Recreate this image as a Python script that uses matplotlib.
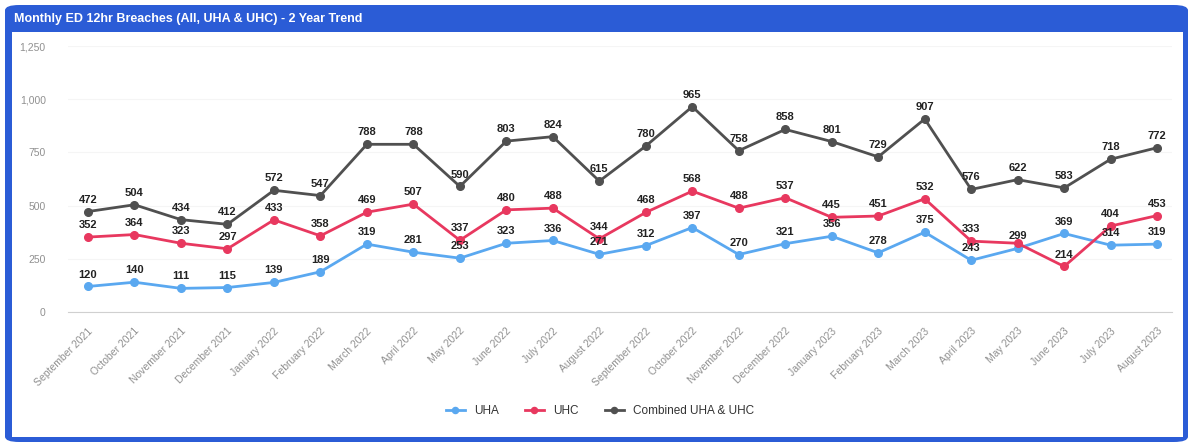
import matplotlib.pyplot as plt
from matplotlib.patches import FancyBboxPatch, Rectangle

# --- Data ---
months = ['September 2021', 'October 2021', 'November 2021', 'December 2021',
          'January 2022', 'February 2022', 'March 2022', 'April 2022', 'May 2022',
          'June 2022', 'July 2022', 'August 2022', 'September 2022', 'October 2022',
          'November 2022', 'December 2022', 'January 2023', 'February 2023',
          'March 2023', 'April 2023', 'May 2023', 'June 2023', 'July 2023', 'August 2023']
uha = [120, 140, 111, 115, 139, 189, 319, 281, 253, 323, 336, 271,
       312, 397, 270, 321, 356, 278, 375, 243, 299, 369, 314, 319]
uhc = [352, 364, 323, 297, 433, 358, 469, 507, 337, 480, 488, 344,
       468, 568, 488, 537, 445, 451, 532, 333, 323, 214, 404, 453]
combined = [472, 504, 434, 412, 572, 547, 788, 788, 590, 803, 824, 615,
            780, 965, 758, 858, 801, 729, 907, 576, 622, 583, 718, 772]
y_ticks = [0, 250, 500, 750, 1000, 1250]

plt.rcParams['font.family'] = ['Liberation Sans', 'DejaVu Sans']

blue = '#2b5cd6'
W, H = 1192, 445

fig = plt.figure(figsize=(W / 100, H / 100), dpi=100)

# --- Frame: blue card with title bar ---
frame = FancyBboxPatch((5 / W, 3 / H), 1183 / W, 437 / H,
                       boxstyle='round,pad=0,rounding_size=0.012',
                       transform=fig.transFigure, facecolor=blue,
                       edgecolor='none', zorder=0)
fig.patches.append(frame)
inner = Rectangle((12 / W, 8 / H), 1171 / W, 405 / H, transform=fig.transFigure,
                  facecolor='white', edgecolor='none', zorder=1)
fig.patches.append(inner)
fig.text(14 / W, 1 - 19 / H, 'Monthly ED 12hr Breaches (All, UHA & UHC) - 2 Year Trend',
         color='white', fontsize=9, fontweight='bold', va='center', ha='left')

# --- Plot ---
ax = fig.add_axes([68 / W, 1 - 312 / H, (1172 - 68) / W, 266 / H])
ax.set_zorder(5)
ax.set_facecolor('none')
x = list(range(len(months)))

series = [(uha, '#5aa8f0', 'UHA'),
          (uhc, '#e8385f', 'UHC'),
          (combined, '#505050', 'Combined UHA & UHC')]
for vals, col, name in series:
    ax.plot(x, vals, color=col, linewidth=2, marker='o', markersize=5.5,
            label=name, zorder=3)

# data labels (May 2023 UHC label hidden by overlap in the original)
for vals, col, name in series:
    for i, v in enumerate(vals):
        if name == 'UHC' and i == 20:
            continue
        ax.annotate(str(v), (i, v), xytext=(0, 5), textcoords='offset points',
                    ha='center', va='bottom', fontsize=8, fontweight='bold',
                    color='#222222', zorder=4)

ax.set_xlim(-0.43, 23.32)
ax.set_ylim(0, 1250)
ax.set_yticks(y_ticks)
ax.set_yticklabels([f'{t:,}' for t in y_ticks], color='#909090', fontsize=7.5)
ax.set_xticks(x)
ax.set_xticklabels(months, rotation=45, ha='right', rotation_mode='anchor',
                   color='#909090', fontsize=7.5)
ax.tick_params(length=0, pad=10)
ax.tick_params(axis='y', pad=16)
ax.grid(axis='y', color='#f5f5f5', linewidth=0.8)
for s in ['top', 'right', 'left']:
    ax.spines[s].set_visible(False)
ax.spines['bottom'].set_color('#d0d0d0')

leg = ax.legend(loc='center', bbox_to_anchor=(600 / W, 1 - 411 / H),
                bbox_transform=fig.transFigure, ncol=3, frameon=False,
                fontsize=8.5, handlelength=1.6, columnspacing=2.2, markerscale=0.8)
for t in leg.get_texts():
    t.set_color('#333333')

plt.savefig('out.png', dpi=100)
